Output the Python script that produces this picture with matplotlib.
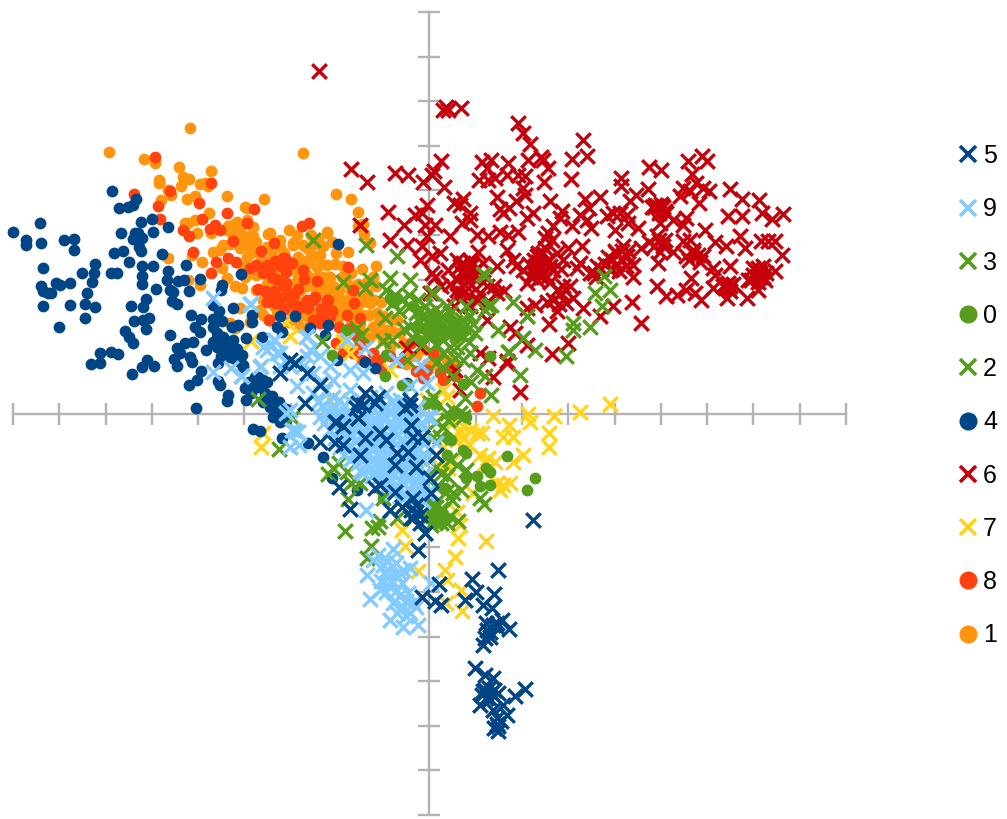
import matplotlib
matplotlib.use("Agg")
import matplotlib.pyplot as plt
from matplotlib.lines import Line2D

plt.rcParams['font.family'] = ['Liberation Sans', 'DejaVu Sans']

# values, in axis tick units
series_1 = [(-5.17,6.39),(-6.93,5.87),(-2.73,5.84),(-6.17,5.71),(-5.93,5.62),(-5.41,5.52),(-4.71,5.44),(-5.33,5.30),(-5.20,5.25),(-5.85,5.24),(-5.85,5.16),(-4.96,5.15),(-4.85,5.16),(-4.78,5.10),(-5.36,5.09),(-5.59,4.90),(-5.64,5.01),(-4.38,4.88),(-3.57,4.82),(-5.80,4.79),(-5.23,4.80),(-5.07,4.88),(-4.77,4.49),(-3.94,4.61),(-5.21,4.26),(-5.28,4.26),(-5.07,4.34),(-3.95,4.34),(-4.24,4.23),(-4.38,4.11),(-4.10,4.11),(-3.81,4.19),(-5.03,4.04),(-4.73,4.04),(-3.03,4.11),(-2.87,4.00),(-3.48,4.03),(-3.23,3.89),(-3.81,3.97),(-4.24,3.97),(-3.99,3.93),(-4.46,3.78),(-4.53,3.67),(-4.67,3.63),(-5.14,3.55),(-5.64,3.48),(-4.91,3.39),(-4.49,3.26),(-4.02,3.29),(-3.52,3.74),(-2.94,3.78),(-2.73,3.78),(-2.55,3.55),(-2.37,3.55),(-2.62,3.37),(-2.76,3.29),(-2.84,3.07),(-4.38,3.03),(-3.99,3.07),(-5.21,2.99),(-4.96,2.88),(-4.20,2.85),(-4.06,2.82),(-4.10,2.36),(-3.74,2.77),(-3.59,2.55),(-4.31,2.02),(-4.20,1.91),(-3.88,2.06),(-3.66,2.32),(-3.30,2.25),(-2.80,2.77),(-2.58,2.99),(-2.44,3.29),(-2.30,3.07),(-2.19,2.70),(-2.66,2.40),(-2.87,2.10),(-2.58,2.02),(-2.22,4.04),(-3.81,3.63),(-3.59,3.41),(-3.16,2.55),(-2.44,2.55),(-2.30,2.25),(-2.80,1.95),(-3.02,2.32),
    (-2.22,4.07),(-1.44,4.24),(-1.54,4.21),(-1.42,4.02),(-1.29,3.82),(-1.75,3.63),(-2.01,3.59),(-2.44,3.52),(-2.62,3.45),(-2.22,3.33),(-2.15,3.07),(-2.44,3.07),(-2.65,3.11),(-2.80,2.77),(-2.51,2.92),(-2.29,2.85),(-2.08,2.85),(-1.93,2.55),(-1.79,2.55),(-1.65,2.40),(-1.29,2.47),(-1.14,2.25),(-1.00,2.18),(-1.43,2.21),(-1.93,2.25),(-2.15,2.25),(-2.44,2.18),(-1.21,1.95),(-0.93,1.88),(-0.71,2.10),(-1.36,2.70),(-1.57,2.62),(-1.21,3.07),(-0.64,1.80),(-0.28,1.28),(0.01,1.13),(0.37,1.20),(0.23,0.98),(-0.21,1.65),(-2.87,2.55),(-3.09,2.47),(-3.45,4.04),(-2.94,3.82),(-3.23,3.74),(-3.88,3.97),(-4.24,4.12),(-4.09,3.97),(-3.99,4.64),(-2.58,2.32),(-1.86,3.30),(-2.37,2.77),(-1.79,2.92),(-1.57,2.32),(-1.14,1.80),(-0.85,1.50),(-0.57,1.58),(-0.42,1.28),(-1.43,1.80),(-2.02,4.92),(-1.70,4.81),(-1.48,4.23),(-1.54,4.52),
    (-4.35,4.20),(-4.15,4.30),(-4.05,4.00),(-4.30,3.80),(-4.10,3.70),(-3.90,3.75),(-3.70,3.60),(-3.95,3.50),(-3.75,3.85),(-3.40,3.55),(-3.15,3.60),(-3.05,3.35),(-3.30,3.15),(-2.85,3.50),(-2.95,3.25),(-2.65,3.70),(-2.50,3.80),(-2.30,3.75),(-2.10,3.85),(-2.35,3.35),(-2.05,3.35),(-1.90,3.05),(-2.65,2.85),(-2.45,2.70),(-2.10,2.65),(-1.95,2.75),(-1.70,2.75),(-1.55,2.90),(-1.35,2.95),(-1.15,2.85),(-2.35,2.50),(-2.05,2.45),(-1.85,2.40),(-1.45,2.50),(-1.20,2.55),(-1.05,2.50),(-2.25,2.05),(-2.00,2.10),(-1.70,2.10),(-1.50,2.00),(-1.30,2.20),(-1.10,2.05),(-0.85,2.15),(-1.65,1.85),(-1.30,1.70),(-1.00,1.65),(-0.80,1.85),(-3.50,2.90),(-3.75,3.10),(-3.20,2.75),(-2.95,2.90),(-3.35,2.40),(-3.60,2.20),(-3.05,2.05),(-2.70,2.20),(-1.70,3.15),(-1.45,3.25),(-1.15,3.30),(-2.55,4.00),(-2.40,3.90),(-0.05,1.10),(0.15,1.30),(0.50,1.08),(-0.50,1.10),(-0.15,1.45)]

series_8 = [(-5.92,5.74),(-6.39,4.93),(-4.71,5.16),(-5.61,4.99),(-4.97,4.71),(-5.87,4.65),(-5.82,4.35),(-4.37,4.50),(-3.79,4.58),(-4.92,4.37),(-5.33,4.11),(-5.20,3.97),(-4.74,4.14),(-4.64,4.23),(-4.53,4.11),(-3.95,4.26),(-2.76,4.20),(-2.61,4.26),(-4.25,3.87),(-3.35,3.83),(-3.63,3.64),(-5.10,3.63),(-4.62,3.39),(-4.35,3.48),(-4.18,3.39),(-4.71,3.15),(-3.74,3.33),(-3.88,3.26),(-3.52,3.32),(-3.34,3.41),(-3.16,3.48),(-2.98,3.38),(-3.09,3.22),(-3.27,2.99),(-3.09,2.92),(-2.73,3.22),(-2.71,3.01),(-3.70,2.79),(-3.48,2.66),(-3.52,2.51),(-3.34,2.47),(-2.94,2.66),(-2.98,2.51),(-2.48,2.62),(-2.44,2.96),(-2.19,2.55),(-2.87,2.32),(-2.37,2.17),(-3.46,2.10),(-2.22,2.40),
    (-1.77,3.28),(-1.66,2.76),(-3.45,2.62),(-3.30,2.55),(-2.94,2.62),(-2.51,2.55),(-2.22,2.55),(-2.62,2.36),(-1.63,2.47),(-3.47,2.10),(-2.15,2.18),(-2.51,2.10),(-1.79,2.21),(-1.50,2.14),(-2.37,2.03),(-2.01,1.58),(-1.21,1.35),(-1.07,1.20),(-1.86,1.35),(-0.06,0.98),(0.23,0.91),(1.09,0.47),(1.02,0.16),(0.44,1.02),(-0.39,1.58),(0.08,1.35),(-3.12,3.48),(-3.30,3.00),(-3.09,3.18),
    (-3.60,3.15),(-3.45,3.25),(-3.20,3.30),(-3.40,3.05),(-3.15,2.85),(-3.55,2.75),(-3.35,2.75),(-3.20,2.60),(-3.05,2.70),(-2.85,2.80),(-2.65,2.55),(-2.75,2.40),(-3.15,2.35),(-2.35,2.35),(-2.10,2.30),(-1.95,1.95),(-1.75,1.90),(-1.60,1.75),(-1.85,1.70),(-1.50,1.55),(-1.65,1.35),(-1.45,1.20),(-1.25,1.10),(-1.05,1.00),(-0.85,1.30),(-0.65,1.15),(-0.30,0.95),(-0.15,0.80),(0.30,0.75),(0.55,0.85)]

series_7 = [(-3.65,-0.74),(-3.59,-0.44),(1.38,-0.06),(1.72,-0.26),(2.13,0.00),(2.17,-0.18),(2.70,-0.05),(3.25,0.04),(2.59,-0.44),(2.59,-0.74),(1.13,-0.44),(1.59,-0.53),(1.81,-0.52),(2.02,-0.93),(1.81,-1.08),(1.09,-0.93),(1.27,-1.00),(1.41,-1.08),(0.66,-0.44),(0.87,-0.37),(1.02,-0.44),(0.59,-0.59),(0.51,-1.04),(0.40,-1.23),(0.23,-1.19),(1.45,-1.56),(1.59,-1.60),(1.74,-1.56),(0.94,-1.79),(1.52,-1.71),(0.30,-0.74),(0.59,-2.20),(0.66,-2.50),(0.62,-2.80),(1.23,-2.86),(-0.60,-2.61),(-0.53,-2.98),(0.55,-3.21),(0.33,-3.51),(-0.24,-3.54),(0.37,-3.73),(0.69,-3.95),(0.35,-4.24),(0.71,-4.42),(-0.64,-1.68),
    (-3.86,1.62),(-3.09,2.06),(-3.01,1.73),(-1.86,1.62),(-1.72,1.35),(-0.85,0.98),(0.30,0.53),(0.73,-0.29),(-2.98,-0.07),(-2.15,0.31),(-0.06,0.31),(0.37,0.38),(0.66,-0.36),(0.75,-0.55),(0.85,-0.70),(1.20,-1.10),(0.50,-0.20),(3.90,0.22)]

series_6 = [(0.36,6.88),(0.41,6.81),(0.30,6.81),(0.68,6.84),(1.92,6.51),(2.03,6.29),(2.17,6.04),(3.31,6.14),(3.41,5.78),(3.09,5.71),(2.41,5.76),(2.46,5.69),(2.57,5.50),(2.14,5.69),(1.69,5.61),(1.14,5.64),(1.34,5.69),(1.24,5.50),(1.68,5.35),(2.06,5.32),(1.92,5.34),(1.06,5.24),(1.27,5.24),(1.42,5.28),(2.47,5.20),(3.05,5.26),(0.24,5.65),(0.10,5.43),(0.05,5.35),(-0.13,5.20),(0.31,5.07),(2.03,5.05),(2.06,4.90),(1.45,4.85),(0.52,4.73),(0.73,4.81),(0.66,4.68),(-0.06,4.67),(-0.17,4.49),(1.88,4.76),(1.72,4.61),(1.52,4.58),(1.58,4.49),(2.60,4.77),(0.88,4.49),(2.24,4.49),(2.10,4.38),(0.88,4.34),(3.37,4.81),(3.68,4.85),(3.45,4.61),(2.86,4.53),(3.25,4.46),(3.40,4.34),(3.09,4.20),(3.50,4.16),(2.82,4.38),
    (4.14,5.29),(4.14,5.11),(4.75,5.52),(5.00,5.46),(4.73,5.04),(4.46,4.90),(5.59,5.67),(5.88,5.78),(5.99,5.67),(5.68,5.38),(5.76,5.17),(5.48,5.05),(5.41,4.87),(5.63,4.98),(5.92,5.05),(6.04,4.98),(5.83,4.72),(6.49,5.03),(6.76,4.81),(7.13,4.78),(6.46,4.42),(6.76,4.42),(7.19,4.49),(7.41,4.37),(7.64,4.47),(4.91,4.66),(5.02,4.66),(4.80,4.64),(5.12,4.49),(4.98,4.27),(5.27,4.34),(5.55,4.38),(5.48,4.23),(4.33,4.76),(4.26,4.46),(4.12,4.49),(3.83,4.42),(3.97,4.49),(4.51,4.16),(4.30,4.27),(4.01,4.12),(5.95,4.12),(6.71,3.97),(6.17,3.84),(6.40,3.76),(7.17,3.87),(7.46,3.86),(7.32,3.86),(6.82,3.71),(7.61,3.55),
    (0.12,4.22),(-0.06,3.97),(0.44,3.97),(0.70,4.27),(1.02,4.01),(1.27,3.97),(1.52,4.08),(1.70,4.01),(1.92,4.08),(2.57,4.05),(2.68,4.20),(2.50,3.93),(3.00,3.71),(3.30,3.75),(1.68,3.66),(1.05,3.63),(0.23,3.60),(0.05,3.52),(-0.17,3.75),(0.84,3.26),(0.73,3.37),(0.95,3.15),(0.70,3.15),(0.59,3.45),(0.88,3.45),(1.16,3.37),(1.45,3.30),(0.05,3.15),(0.12,3.07),(0.41,3.22),(1.88,3.30),(1.81,3.45),(2.03,3.22),(2.32,3.52),(2.46,3.60),(2.39,3.30),(2.24,3.15),(2.57,3.45),(2.89,3.45),(2.68,3.22),(2.32,3.00),(2.10,2.93),(3.18,3.26),(3.47,3.15),(3.61,3.30),(3.94,3.45),(4.04,3.60),(4.19,3.75),(4.26,3.52),(3.90,3.22),(4.40,3.34),(4.40,3.07),(4.58,3.71),(3.25,3.37),
    (4.91,3.97),(5.09,3.90),(4.98,3.63),(5.27,3.63),(4.94,3.37),(5.55,3.52),(5.70,3.67),(5.92,3.52),(6.13,3.26),(6.17,3.11),(6.49,3.30),(5.63,3.90),(5.48,3.86),(5.66,3.04),(4.92,2.85),(5.11,2.63),(5.34,2.66),(5.55,2.78),(5.74,2.70),(5.87,2.54),(6.13,2.81),(6.46,2.92),(6.49,2.85),(6.42,2.59),(6.35,2.85),(6.87,2.59),(6.89,3.00),(7.10,2.78),(7.10,3.26),(7.21,3.30),(6.99,3.26),(7.14,3.07),(7.46,3.19),(7.28,3.15),
    (2.89,2.85),(2.75,2.78),(3.04,2.85),(2.68,2.55),(2.96,2.48),(2.53,2.51),(2.75,2.29),(2.59,2.01),(3.32,2.36),(3.97,2.42),(4.38,2.50),(4.58,2.03),(3.68,2.18),(3.00,1.58),(2.65,1.34),(2.10,2.37),(2.28,2.44),(1.60,2.74),(1.45,2.70),(0.73,2.70),(0.59,2.78),(1.09,2.70),(0.52,2.40),(1.24,2.10),(0.26,2.85),(0.01,2.70),(1.74,1.95),(1.85,1.80),(2.10,1.54),(1.09,1.36),(1.67,1.17),(1.27,1.24),(0.88,2.40),
    (-0.21,1.49),(-0.49,1.47),(0.55,0.98),(1.37,0.82),(1.67,1.13),(1.96,0.48),(0.66,0.53),(-2.39,7.68),(-1.70,5.48),(-1.35,5.19),(-0.75,5.39),(-0.46,5.35),(-0.90,4.52),(-1.50,4.23),(-0.55,4.23),(-0.85,3.89),(-0.49,3.78),(-0.31,4.45),(-0.10,4.23),(-0.21,3.44),(0.80,3.15),(0.91,3.34),(2.42,3.56),(2.28,3.30),
    (0.75,3.25),(0.85,3.15),(0.90,3.40),(1.00,3.25),(0.65,3.30),(0.78,3.05),(0.95,3.05),(0.60,3.00),(0.75,2.90),(0.90,2.88),(0.45,2.90),(0.60,2.65),(1.25,2.85),(1.40,2.85),(1.15,2.95),(0.85,2.65),(1.05,2.55),(1.25,2.50),
    (2.25,3.45),(2.35,3.40),(2.50,3.35),(2.15,3.35),(2.30,3.20),(2.45,3.15),(2.60,3.30),(2.40,3.05),(2.20,3.05),(2.55,3.05),(2.35,3.60),(2.50,3.70),(2.65,3.90),(2.75,3.60),(2.85,3.25),(2.60,2.95),(2.85,2.70),(3.10,2.60),(2.80,2.45),
    (3.70,3.25),(3.80,3.35),(3.95,3.25),(4.05,3.35),(4.15,3.45),(4.25,3.30),(3.85,3.50),(4.00,3.65),(4.15,3.65),(4.30,3.65),(3.55,3.15),(3.60,3.05),(4.10,3.20),
    (4.85,4.62),(4.95,4.60),(5.05,4.62),(4.88,4.68),(5.00,4.70),(5.10,4.55),(4.95,4.50),(4.75,3.85),(4.85,3.75),(4.95,3.90),(5.05,3.75),(5.70,3.60),(5.80,3.55),(5.60,3.45),(5.85,3.40),
    (7.05,3.20),(7.15,3.15),(7.00,3.10),(7.20,3.05),(6.95,3.00),(7.10,2.95),(7.25,3.00),(6.40,2.88),(6.45,2.80),(6.55,2.90),(6.50,2.75)]

series_4 = [(-9.00,4.07),(-8.42,4.27),(-8.72,3.89),(-8.72,3.78),(-8.39,3.82),(-7.90,3.89),(-7.68,3.91),(-7.68,3.67),(-8.35,3.26),(-7.51,3.15),(-7.23,3.35),(-7.25,3.15),(-7.29,2.95),(-8.39,2.86),(-8.35,2.75),(-8.24,2.70),(-8.18,2.70),(-8.07,2.93),(-7.98,2.88),(-7.77,2.93),(-7.40,2.70),(-7.44,2.46),(-7.23,2.39),(-7.77,2.43),(-8.35,2.41),(-7.44,2.14),(-8.01,1.94),(-6.86,4.99),(-6.71,4.61),(-6.51,4.63),(-6.41,4.67),(-6.34,4.81),(-6.23,4.29),(-6.00,4.36),(-5.65,4.18),(-5.97,4.07),(-6.67,4.05),(-6.36,4.05),(-6.30,4.05),(-6.41,3.91),(-6.21,3.93),(-6.28,3.73),(-6.23,3.64),(-6.62,3.64),(-6.82,3.60),(-5.78,3.58),(-6.49,3.40),(-6.21,3.31),(-5.97,3.31),(-5.26,3.33),(-6.88,3.15),(-6.75,3.15),(-6.21,3.08),(-6.21,2.90),(-5.65,3.20),(-5.67,2.99),(-5.43,2.97),(-5.30,2.99),(-4.96,3.02),(-4.07,3.13),(-5.91,2.79),(-5.61,2.77),(-5.54,2.72),(-5.20,2.75),(-4.48,2.88),(-4.51,2.77),(-6.13,2.57),(-6.19,2.39),(-6.45,2.41),(-5.56,2.52),(-5.46,2.46),(-6.06,2.14),(-6.19,2.10),(-6.38,2.07),(-6.13,1.89),(-6.58,1.85),(-6.49,1.72),(-6.41,1.58),(-5.61,1.76),(-5.15,2.21),(-4.94,2.12),(-5.07,1.94),(-4.96,1.83),(-4.68,2.43),(-4.55,2.30),(-4.68,2.12),(-4.48,2.07),(-4.68,1.94),(-4.25,2.37),(-3.84,2.21),(-3.84,2.05),(-4.14,1.98),(-4.27,1.94),
    (-4.59,1.80),(-4.46,1.72),(-4.68,1.60),(-4.53,1.60),(-4.38,1.58),(-4.25,1.65),(-4.31,1.42),(-4.38,1.27),(-4.25,1.24),(-4.05,1.31),(-4.03,1.04),(-3.97,1.69),(-3.62,1.72),(-4.83,1.42),(-5.11,1.60),(-5.28,1.58),(-5.46,1.47),(-5.39,1.36),(-5.52,1.22),(-5.46,1.07),(-5.18,1.27),(-5.13,1.15),(-4.57,1.13),(-7.12,1.36),(-6.88,1.38),(-6.73,1.33),(-7.12,1.13),(-7.31,1.11),(-6.10,1.20),(-6.21,1.04),(-5.95,1.07),(-6.43,0.89),(-4.94,0.95),(-5.02,0.75),(-5.20,0.64),(-4.57,0.73),(-4.53,0.64),(-4.35,0.41),(-4.38,0.28),(-5.05,0.12),(-3.99,0.57),(-3.97,0.30),(-3.77,0.82),(-3.60,0.75),(-3.73,0.59),(-3.40,0.19),(-3.30,0.01),(-1.98,3.80),(-3.23,2.19),(-2.91,2.19),(-3.30,1.94),(-3.19,1.83),(-2.58,1.92),(-2.19,1.98),(-2.26,1.76),(-2.00,1.20),(-1.39,1.15),(-1.18,1.02),(-0.49,0.68),(-4.03,1.09),(-3.71,0.82),(-3.51,0.71),(-3.38,-0.08),(-3.23,-0.19),(-3.81,-0.35),(-3.66,-0.39),(-3.19,-0.55),(-2.63,-0.66),(-2.30,-0.98),(-2.11,-1.45),(-1.57,-1.72),(-3.45,0.15),(-3.27,0.01),
    (-4.60,1.50),(-4.45,1.45),(-4.30,1.55),(-4.50,1.30),(-4.15,1.45),(-4.60,1.70),(-4.10,1.15),(-3.90,0.70),(-3.65,0.60),(-3.85,0.45),(-3.55,0.45),(-3.40,0.40),(-3.60,0.25),(-3.25,0.25),(-3.10,0.10),(-3.10,-0.15)]

series_2 = [(0.23,-0.52),(0.51,0.08),(0.73,-0.07),(0.37,-1.41),(0.59,-1.15),(0.80,-1.27),(0.69,-1.71),(1.09,-1.90),(1.18,-2.03),(0.48,-1.94),(0.30,-2.16),(0.62,-2.42),(0.37,-2.46),(0.04,-2.50),(-0.10,-2.68),(0.23,-2.31),(-1.07,-2.42),(-1.25,-2.57),(-1.11,-2.54),(-1.83,-2.63),(-1.27,-2.96),(-1.36,-3.25),(-1.76,-1.92),(-2.08,-1.23),(-1.79,-1.30),(-1.61,-1.49),(-1.50,-1.56),(-1.00,-1.90),(-3.25,-0.79),(-0.71,-2.35),(0.08,-2.09),(-0.21,-1.00),(0.08,-0.52),(0.44,-1.04),(0.15,-1.64),(0.51,-1.79),(-3.70,0.33),(-2.98,-0.10),(0.01,0.23),(0.37,0.01),(0.08,0.38),(0.66,0.01),
    (0.10,-2.25),(0.25,-2.15),(0.10,-2.40),(0.25,-2.45),(0.45,-2.30),(0.15,-2.10),(-0.05,-2.35),(0.35,-1.75),(0.25,-1.35),(0.15,-1.20),(0.30,-0.30),(0.15,-0.20),(0.40,-0.15),(-1.95,-1.10),(-1.70,-1.55),(-2.20,-1.35)]

series_0 = [(0.46,-0.59),(0.73,-0.82),(0.80,-0.89),(0.37,-0.93),(1.67,-0.95),(2.28,-1.44),(2.10,-1.71),(1.23,-1.23),(1.30,-1.30),(1.02,-1.40),(0.80,-1.45),(1.09,-1.62),(1.30,-1.60),(0.33,-1.68),(0.23,-2.31),(0.37,-2.35),(0.15,-2.42),(-1.00,-1.90),(0.05,-1.98),(0.37,-0.52),(-0.78,2.51),(-0.35,2.40),(1.31,1.29),(0.73,0.67),(-1.80,1.88),(-2.11,1.32),(-0.93,1.32),(-0.96,0.83),(-0.60,0.64),(-0.46,0.64),(-0.06,0.23),(0.15,0.16),(0.80,-0.07),(0.59,0.01),(0.01,1.80),(0.30,1.88),(-0.28,1.95),
    (-0.85,2.60),(-0.70,2.60),(-0.25,2.30),(0.05,2.05),(0.20,1.95),(0.45,1.90),(0.60,1.75),(0.75,1.85),(0.10,2.25),(0.40,2.15),(-0.10,1.90),(0.15,1.70)]

series_3 = [(-2.51,3.89),(-1.38,3.77),(-0.71,3.54),(-1.86,2.94),(-1.29,3.00),(-1.39,2.81),(-0.42,3.00),(-0.85,3.03),(-0.93,2.77),(-0.78,2.47),(-0.42,2.40),(0.08,2.70),(0.37,2.40),(0.80,2.40),(1.81,2.51),(1.34,2.44),(1.20,2.32),(2.10,2.18),(1.20,3.11),(1.49,1.88),(0.98,1.80),(2.03,1.69),(1.70,1.39),(1.95,0.87),(1.34,0.42),(1.20,0.83),(0.77,0.35),(-0.96,2.14),(-1.57,1.91),(-1.47,1.76),(-1.00,1.62),(-0.82,1.65),(-2.33,1.62),(-0.17,2.18),(0.08,2.03),(-0.28,1.80),(-0.06,1.73),(0.37,1.95),(0.73,1.73),(0.30,1.65),(0.87,2.18),(0.59,1.95),(-0.49,1.20),(0.15,1.13),(0.73,1.20),(1.02,0.98),(0.87,1.35),(0.44,1.50),(-0.28,2.25),(0.01,2.25),(0.30,2.18),(0.59,1.80),(0.01,1.88),(-0.42,1.95),
    (1.16,3.13),(3.78,3.09),(3.90,2.78),(3.58,2.70),(3.72,2.40),(3.47,1.95),(3.11,2.03),(3.11,1.88),(2.96,1.28),(2.28,1.43),(1.72,1.39),(2.03,1.69),(2.10,2.18),(1.27,2.40),(0.05,2.70),
    (-0.75,2.65),(-0.60,2.55),(-0.65,2.30),(-0.45,2.65),(-0.25,2.55),(-0.10,2.40),(-0.20,2.05),(-0.05,2.05),(0.15,2.35),(0.20,2.10),(0.45,2.25),(0.55,2.05),(0.70,2.10),(0.45,1.75),(0.15,1.55),(-0.15,1.55),(0.60,1.50),(0.85,1.60),(0.30,1.35),(0.95,2.00),(-0.55,1.90),(-0.35,1.70),(0.20,1.85),(0.75,1.95),(0.55,1.25),(0.30,1.05),(0.50,0.85),(0.90,0.70)]

series_9 = [(-3.86,2.46),(-3.37,1.65),(-3.59,1.50),(-3.23,1.35),(-3.63,1.06),(-4.07,0.83),(-2.65,1.73),(-1.79,1.65),(-1.39,1.47),(-0.72,1.20),(-0.19,1.09),(-1.72,0.98),(-1.43,0.91),(-0.06,0.68),(-0.42,0.61),(0.01,-0.07),(-3.01,0.08),(-2.91,-0.40),(-2.58,1.43),(-2.65,1.28),(-2.37,1.28),(-2.15,1.06),(-2.08,0.76),(-2.51,0.91),(-2.73,1.06),(-2.87,0.61),(-2.51,0.46),(-2.08,0.38),(-1.72,0.53),(-1.29,0.38),(-0.93,0.46),(-0.64,0.31),(-2.22,0.01),(-1.79,0.01),(-1.36,-0.07),(-0.93,-0.07),(-0.42,0.01),(-2.15,-0.36),(-1.72,-0.44),(-1.21,-0.44),(-0.78,-0.44),(-0.35,-0.36),(-3.01,1.06),(-3.23,1.06),
    (-4.67,2.60),(-3.88,2.46),(-4.67,0.94),(-4.28,1.01),(-4.06,0.83),(-3.66,1.05),(-3.34,1.65),(-3.52,1.43),(-3.30,1.35),(-2.66,1.72),(-3.09,0.01),
    (-2.37,-0.07),(-2.01,-0.07),(-1.65,-0.07),(-1.22,0.08),(-0.86,0.08),(-0.35,-0.07),(-0.06,-0.07),(-2.15,-0.37),(-1.79,-0.44),(-1.43,-0.44),(-1.00,-0.37),(-0.57,-0.37),(-0.21,-0.44),(0.15,-0.67),(-1.94,-0.74),(-1.58,-0.82),(-1.22,-0.82),(-0.86,-0.82),(-0.42,-0.82),(-0.06,-0.97),(-1.72,-1.04),(-1.36,-1.12),(-1.00,-1.12),(-0.64,-1.12),(-0.28,-1.12),(-1.43,-1.34),(-1.07,-1.41),(-0.64,-1.49),(-0.28,-1.49),(-0.93,-1.64),(-0.42,-1.71),(-0.06,-1.79),(-0.64,-1.86),(-0.28,-1.94),(-2.98,-0.37),(-2.84,-0.41),(-3.02,-0.74),(-2.81,-0.71),(-1.37,-2.16),
    (-0.78,-3.04),(-1.12,-3.17),(-1.23,-3.28),(-1.35,-3.62),(-0.73,-3.36),(-0.57,-3.51),(-0.89,-3.66),(-0.64,-3.58),(-0.42,-3.47),(-0.78,-3.77),(-1.07,-3.96),(-0.93,-4.00),(-1.29,-4.16),(-0.71,-3.96),(-0.46,-4.03),(-0.78,-4.25),(-0.57,-4.33),(-0.35,-4.25),(-0.86,-4.63),(-0.57,-4.78),(-0.24,-4.74),(-0.42,-4.48),(-0.28,-4.33),(0.04,-3.81),(-0.71,-4.48),(-0.50,-4.55),
    (-2.19,-0.07),(-1.83,-0.07),(-1.43,0.00),(-1.04,-0.07),(-0.64,-0.07),(-1.97,-0.37),(-1.61,-0.37),(-1.22,-0.37),(-0.78,-0.37),(-0.39,-0.37),(-1.75,-0.74),(-1.40,-0.82),(-1.04,-0.74),(-0.64,-0.74),(-0.24,-0.82),(-1.54,-1.12),(-1.18,-1.15),(-0.82,-1.15),(-0.46,-1.15),(-1.25,-1.41),(-0.89,-1.41),(-0.46,-1.49),(-0.71,-1.68),(-0.24,-1.68),
    (-2.30,0.20),(-2.05,0.15),(-1.85,0.20),(-1.60,0.15),(-1.40,0.20),(-1.10,0.25),(-0.80,0.25),(-0.55,0.15),(-0.25,0.15),(-2.28,-0.22),(-2.05,-0.22),(-1.80,-0.22),(-1.55,-0.25),(-1.30,-0.22),(-1.10,-0.22),(-0.85,-0.20),(-0.60,-0.20),(-0.35,-0.20),(-0.15,-0.25),(-2.05,-0.55),(-1.82,-0.58),(-1.55,-0.60),(-1.30,-0.60),(-1.08,-0.58),(-0.82,-0.58),(-0.60,-0.58),(-0.40,-0.60),(-0.15,-0.65),(-1.85,-0.92),(-1.62,-0.95),(-1.35,-0.95),(-1.10,-0.95),(-0.90,-0.95),(-0.65,-0.95),(-0.42,-0.98),(-0.18,-1.00),(-1.50,-1.28),(-1.28,-1.25),(-1.05,-1.28),(-0.80,-1.30),(-0.55,-1.30),(-0.30,-1.30),(-0.10,-1.35),(-1.10,-1.58),(-0.85,-1.55),(-0.55,-1.60),(-0.15,-1.55),(-0.80,-1.78),(-0.50,-1.85),(-0.15,-1.95),
    (-1.00,-3.40),(-0.90,-3.30),(-0.80,-3.45),(-0.95,-3.55),(-0.75,-3.60),(-1.05,-3.75),(-0.90,-3.85),(-0.60,-3.80),(-0.65,-4.10),(-0.50,-4.20),(-0.62,-4.35),
    (-2.10,0.10),(-1.95,0.30),(-1.72,0.28),(-1.50,0.32),(-1.25,0.15),(-1.00,0.12),(-0.72,0.10),(-0.48,0.05),(-1.90,-0.12),(-1.68,-0.15),(-1.45,-0.15),(-1.18,-0.15),(-0.98,-0.15),(-0.72,-0.12),(-0.48,-0.12),(-0.25,-0.12),(-1.92,-0.45),(-1.68,-0.50),(-1.42,-0.50),(-1.15,-0.50),(-0.92,-0.50),(-0.70,-0.50),(-0.48,-0.50),(-0.28,-0.50),(-1.72,-0.70),(-1.48,-0.70),(-1.18,-0.70),(-0.95,-0.70),(-0.72,-0.68),(-0.50,-0.70),(-0.30,-0.72),(-1.48,-1.02),(-1.22,-1.02),(-0.98,-1.02),(-0.78,-1.02),(-0.52,-1.05),(-0.30,-1.05),(-1.15,-1.30),(-0.92,-1.30),(-0.68,-1.28),(-0.42,-1.40),(-0.18,-1.42),(-0.75,-1.60),(-0.32,-1.60),(-2.35,0.70),(-2.25,0.50),(-2.40,0.25)]

series_5 = [(-0.24,-3.06),(1.49,-3.51),(0.92,-3.72),(0.20,-3.83),(1.00,-3.99),(1.39,-4.05),(-0.17,-4.11),(0.12,-4.20),(0.26,-4.29),(0.77,-4.18),(1.16,-4.29),(1.36,-4.37),(1.56,-4.63),(1.45,-4.70),(1.72,-4.84),(1.23,-4.70),(1.31,-4.89),(1.20,-5.04),(1.16,-5.19),(1.45,-4.78),(0.98,-5.71),(1.20,-5.86),(1.38,-5.94),(1.20,-6.20),(1.34,-6.27),(1.49,-6.27),(1.13,-6.31),(1.23,-6.38),(1.09,-6.53),(2.06,-6.18),(1.85,-6.33),(1.59,-6.53),(1.38,-6.65),(1.67,-6.76),(1.45,-6.83),(1.49,-7.00),(1.49,-7.11),
    (2.24,-2.39),(-0.10,-2.68),(-0.35,-2.35),(-0.39,-2.16),(-0.86,-2.16),(-0.60,-2.09),(-1.72,-2.15),(-1.95,-1.65),(-1.18,-1.68),(-0.75,-1.75),(-0.35,-1.90),(0.04,-1.79),(0.01,-1.45),(-0.28,-1.19),(0.15,-0.93),(-0.75,-1.15),(-0.71,-0.89),(-0.46,-0.86),(-1.50,-0.93),(-1.86,-0.70),(-2.04,-0.67),(-2.37,-0.63),(-1.40,-0.56),(-1.07,-0.44),(-0.93,-0.59),(-0.35,-0.52),(-0.17,-0.52),(-0.39,-0.26),(-2.04,-0.18),(-1.86,-0.29),(-1.54,-0.11),(-1.58,0.12),(-1.43,0.19),(-1.18,0.23),(-0.53,0.12),(-0.42,0.19),(-1.07,-1.60),(-0.21,-2.27),
    (-2.37,0.64),(-1.39,0.46),(-1.11,0.38),(-1.54,0.23),(-0.42,0.31),(-1.54,-0.10),(-2.01,-0.18),(-2.69,0.23),(-2.91,1.13),(-3.23,0.91),(-3.01,1.20),(-2.65,0.91),
    (1.25,-4.85),(1.38,-4.75),(1.30,-5.00),(1.28,-6.15),(1.40,-6.20),(1.15,-6.22),(1.30,-6.40),(1.45,-6.95),(1.55,-6.90),(1.40,-7.05),(-0.30,-2.05),(-0.28,-2.20),(-0.40,-2.35),(-0.20,-2.45)]

labels = ['5', '9', '3', '0', '2', '4', '6', '7', '8', '1']
colors = {'5': '#004586', '9': '#83caff', '3': '#579d1c', '0': '#579d1c', '2': '#579d1c',
          '4': '#004586', '6': '#c5000b', '7': '#ffd320', '8': '#ff420e', '1': '#ff950e'}
markers = {'5': 'x', '9': 'x', '3': 'x', '0': 'o', '2': 'x', '4': 'o', '6': 'x', '7': 'x', '8': 'o', '1': 'o'}
data = {'5': series_5, '9': series_9, '3': series_3, '0': series_0, '2': series_2,
        '4': series_4, '6': series_6, '7': series_7, '8': series_8, '1': series_1}

fig = plt.figure(figsize=(10.07, 8.19), dpi=100)
ax = fig.add_axes([0, 0, 1, 1])

# first legend entry is drawn last, so it ends up on top
for i, name in enumerate(reversed(labels)):
    xs, ys = zip(*data[name])
    if markers[name] == 'o':
        ax.scatter(xs, ys, s=72, marker='o', color=colors[name], linewidths=0, zorder=3 + i)
    else:
        ax.scatter(xs, ys, s=110, marker='x', color=colors[name], linewidths=2.4, zorder=3 + i)

ax.set_xlim(-9.28, 12.48)
ax.set_ylim(-9.09, 9.27)
ax.set_xticks(range(-9, 10))
ax.set_yticks(range(-9, 10))
ax.tick_params(direction='inout', length=16, width=1.7, color='#b3b3b3',
               labelbottom=False, labelleft=False)
for side in ['top', 'right']:
    ax.spines[side].set_visible(False)
ax.spines['left'].set_position(('data', 0))
ax.spines['bottom'].set_position(('data', 0))
ax.spines['left'].set_bounds(-9, 9)
ax.spines['bottom'].set_bounds(-9, 9)
for side in ['left', 'bottom']:
    ax.spines[side].set_color('#b3b3b3')
    ax.spines[side].set_linewidth(1.7)
ax.set_axisbelow(True)
ax.patch.set_visible(False)

handles = []
for name in labels:
    if markers[name] == 'o':
        handles.append(Line2D([], [], linestyle='none', marker='o', markersize=13,
                              color=colors[name], markeredgewidth=0))
    else:
        handles.append(Line2D([], [], linestyle='none', marker='x', markersize=11.5,
                              color=colors[name], markeredgewidth=2.6))
ax.legend(handles, labels, loc='upper left', bbox_to_anchor=(0.949, 0.824), frameon=False,
          fontsize=18, labelspacing=1.17, handlelength=1, handletextpad=0.1,
          borderpad=0, borderaxespad=0)

fig.savefig('out.png', dpi=100)
